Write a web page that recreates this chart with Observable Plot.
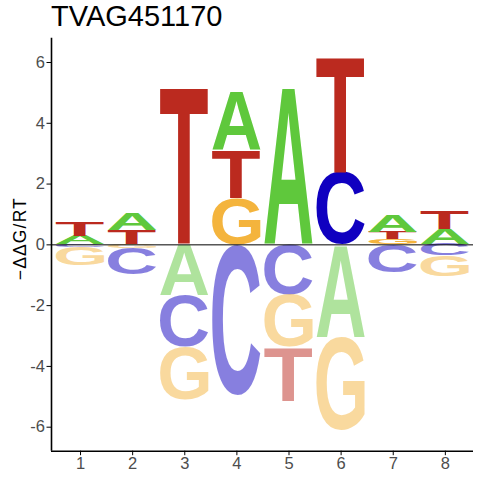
<!DOCTYPE html>
<html>
<head>
<meta charset="utf-8">
<script src="https://cdn.jsdelivr.net/npm/d3@7"></script>
<script src="https://cdn.jsdelivr.net/npm/@observablehq/plot@0.6"></script>
<style>
  html, body { margin: 0; padding: 0; background: white; }
  #wrap { width: 480px; height: 480px; position: relative; overflow: hidden; }
  #title { position: relative; height: 32px; }
  #title span { position: absolute; left: 51px; top: 0px; line-height: 32px; font-size: 29px;
    font-family: "Liberation Sans", Arial, sans-serif; color: #000; white-space: nowrap; }
  svg g[aria-label="x-axis tick label"], svg g[aria-label="y-axis tick label"] { fill: #4D4D4D; font-size: 16.5px !important; }
  svg g[aria-label="x-axis tick"], svg g[aria-label="y-axis tick"] { stroke: #000; }
</style>
</head>
<body>
<div id="wrap">
  <div id="title"><span>TVAG451170</span></div>
  <div id="chart"></div>
</div>
<script>
// ---- data (energy per letter at positions 1..8; positive above 0, negative below) ----
const titleText = "TVAG451170";
const yLabel = "\u2212\u0394\u0394G/RT";
const positions = [1, 2, 3, 4, 5, 6, 7, 8];
const energyA = [0.28, 0.57, -1.68, 1.92, 5.16, -3.04, 0.56, 0.49];
const energyC = [-0.10, -0.87, -1.70, -4.96, -1.66, 2.39, -0.92, -0.37];
const energyG = [-0.60, -0.12, -1.74, 1.51, -1.72, -3.07, 0.17, -0.67];
const energyT = [0.46, 0.47, 5.16, 1.59, -1.76, 3.80, 0.23, 0.61];
const xTicks = [1, 2, 3, 4, 5, 6, 7, 8];
const yTicks = [-6, -4, -2, 0, 2, 4, 6];
const letterColors = {A: "#5FC83C", C: "#1000C0", G: "#F4B43D", T: "#BB2A1F"};

// ---- build stacked letter table ----
const series = {A: energyA, C: energyC, G: energyG, T: energyT};
const rows = [];
positions.forEach((p, i) => {
  const items = Object.keys(series).map(L => ({letter: L, v: series[L][i]}));
  const pos = items.filter(d => d.v > 0).sort((a, b) => a.v - b.v);
  const neg = items.filter(d => d.v < 0).sort((a, b) => b.v - a.v);
  let base = 0;
  for (const d of pos) { rows.push({pos: p, letter: d.letter, y1: base, y2: base + d.v, neg: false}); base += d.v; }
  base = 0;
  for (const d of neg) { rows.push({pos: p, letter: d.letter, y1: base, y2: base + d.v, neg: true}); base += d.v; }
});
const halfW = 0.465;

// ---- glyph ink metrics ----
const FONT_FAMILY = "Liberation Sans";
const ctx = document.createElement("canvas").getContext("2d");
ctx.font = `bold 100px "${FONT_FAMILY}"`;
ctx.textAlign = "left";
ctx.textBaseline = "alphabetic";
const metricCache = {};
function ink(ch) {
  if (!metricCache[ch]) {
    const m = ctx.measureText(ch);
    metricCache[ch] = {l: -m.actualBoundingBoxLeft, r: m.actualBoundingBoxRight,
                       t: -m.actualBoundingBoxAscent, b: m.actualBoundingBoxDescent};
  }
  return metricCache[ch];
}

function logoRender(index, scales, values) {
  const g = d3.create("svg:g").attr("text-anchor", "start");
  for (const i of index) {
    const d = rows[i];
    const X1 = Math.min(values.x1[i], values.x2[i]), X2 = Math.max(values.x1[i], values.x2[i]);
    const Y1 = Math.min(values.y1[i], values.y2[i]), Y2 = Math.max(values.y1[i], values.y2[i]);
    const m = ink(d.letter);
    const sx = (X2 - X1) / (m.r - m.l), sy = (Y2 - Y1) / (m.b - m.t);
    g.append("text")
      .attr("text-anchor", "start")
      .attr("font-family", FONT_FAMILY)
      .attr("font-weight", "bold")
      .attr("font-size", 100)
      .attr("fill", letterColors[d.letter])
      .attr("fill-opacity", d.neg ? 0.5 : 1)
      .attr("transform", `translate(${X1},${Y1}) scale(${sx},${sy}) translate(${-m.l},${-m.t})`)
      .text(d.letter);
  }
  return g.node();
}

const xDomain = [0.443, 8.54];
const yDomain = [-6.79, 6.8];

const chart = Plot.plot({
  width: 480,
  height: 448,
  marginTop: 5.7,
  marginBottom: 29.3,
  marginLeft: 51,
  marginRight: 7,
  x: {domain: xDomain},
  y: {domain: yDomain},
  style: {fontFamily: "Liberation Sans, Arial, sans-serif", background: "white"},
  marks: [
    Plot.rect(rows, {
      x1: d => d.pos - halfW, x2: d => d.pos + halfW, y1: "y1", y2: "y2",
      render: logoRender
    }),
    Plot.ruleY([0], {stroke: "black", strokeWidth: 1}),
    Plot.ruleX([xDomain[0]], {stroke: "black", strokeWidth: 1.6}),
    Plot.ruleY([yDomain[0]], {stroke: "black", strokeWidth: 1.6}),
    Plot.axisX(xTicks, {tickSize: 4.5, tickPadding: 2, fontSize: 16.5, label: null, tickFormat: d => String(d)}),
    Plot.axisY(yTicks, {tickSize: 4.5, tickPadding: 2, fontSize: 16.5, label: null, tickFormat: d => String(d)})
  ]
});

// y-axis title, positioned from the y scale
const ys = chart.scale("y");
const yMid = (ys.apply(yDomain[0]) + ys.apply(yDomain[1])) / 2 - 5;
d3.select(chart).append("text")
  .attr("transform", `translate(25.5,${yMid}) rotate(-90)`)
  .attr("text-anchor", "middle")
  .attr("font-family", "Liberation Sans, Arial, sans-serif")
  .attr("font-size", 17.5)
  .attr("textLength", 82)
  .attr("lengthAdjust", "spacing")
  .attr("fill", "black")
  .text(yLabel);

document.getElementById("chart").appendChild(chart);
</script>
</body>
</html>
